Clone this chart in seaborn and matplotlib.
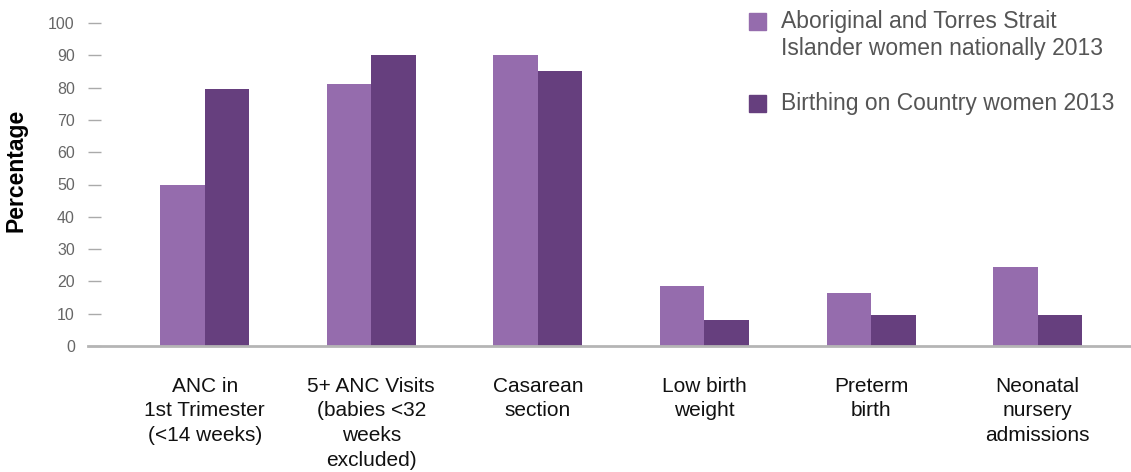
import pandas as pd
import matplotlib
matplotlib.use("Agg")
import matplotlib.pyplot as plt
import seaborn as sns
from matplotlib.patches import Rectangle

# values
categories = [
    "ANC in\n1st Trimester\n(<14 weeks)",
    "5+ ANC Visits\n(babies <32\nweeks\nexcluded)",
    "Casarean\nsection",
    "Low birth\nweight",
    "Preterm\nbirth",
    "Neonatal\nnursery\nadmissions",
]
national = [50, 81, 90, 18.5, 16.3, 24.6]
boc = [79.5, 90, 85, 8.2, 9.7, 9.7]
series_names = ["Aboriginal and Torres Strait Islander women nationally 2013",
                "Birthing on Country women 2013"]
colors = ["#956cad", "#663f7e"]

df = pd.DataFrame({
    "Category": categories * 2,
    "Value": national + boc,
    "Series": [series_names[0]] * len(categories) + [series_names[1]] * len(categories),
})

sns.set_theme(style="white")
plt.rcParams["font.family"] = ["Liberation Sans", "DejaVu Sans"]

fig = plt.figure(figsize=(11.31, 4.72), dpi=100)
ax = fig.add_axes([88 / 1131, 1 - 346 / 472, 1 - 88 / 1131, 323 / 472])

sns.barplot(data=df, x="Category", y="Value", hue="Series", palette=colors,
            width=0.535, saturation=1, ax=ax, legend=False, linewidth=0)

ax.set_xlim(-0.7, 5.56)
ax.set_ylim(0, 100)
ax.set_yticks(range(0, 101, 10))
ax.tick_params(axis="y", left=True, direction="in", length=9.5, width=1,
               color="#aaaaaa", pad=9.5, labelsize=11.5, labelcolor="#666666")
ax.tick_params(axis="x", length=0, pad=22, labelsize=15, labelcolor="#111111")
for lab in ax.get_xticklabels():
    lab.set_linespacing(1.38)
for t in ax.yaxis.get_major_ticks():
    t.tick1line.set_clip_on(False)

for s in ["top", "right", "left"]:
    ax.spines[s].set_visible(False)
ax.spines["bottom"].set_color("#b5b5b5")
ax.spines["bottom"].set_linewidth(2)

ax.set_xlabel("")
ax.set_ylabel("Percentage", fontsize=16.5, fontweight="bold", color="black")
ax.yaxis.set_label_coords(-0.058, 0.545)

# legend drawn by hand so the square lines up with the first text line
W, H = 1131, 472
def px(x, y):
    return x / W, 1 - y / H

for (sq_y, lines), col in zip([(13, ["Aboriginal and Torres Strait",
                                      "Islander women nationally 2013"]),
                               (95, ["Birthing on Country women 2013"])], colors):
    fig.patches.append(Rectangle(px(749, sq_y + 17), 17 / W, 17 / H,
                                 transform=fig.transFigure, color=col))
    for i, line in enumerate(lines):
        fig.text(*px(781, sq_y + 15 + i * 27), line, fontsize=16.5,
                 color="#555555", va="baseline", ha="left")

fig.savefig("out.png", dpi=100)
